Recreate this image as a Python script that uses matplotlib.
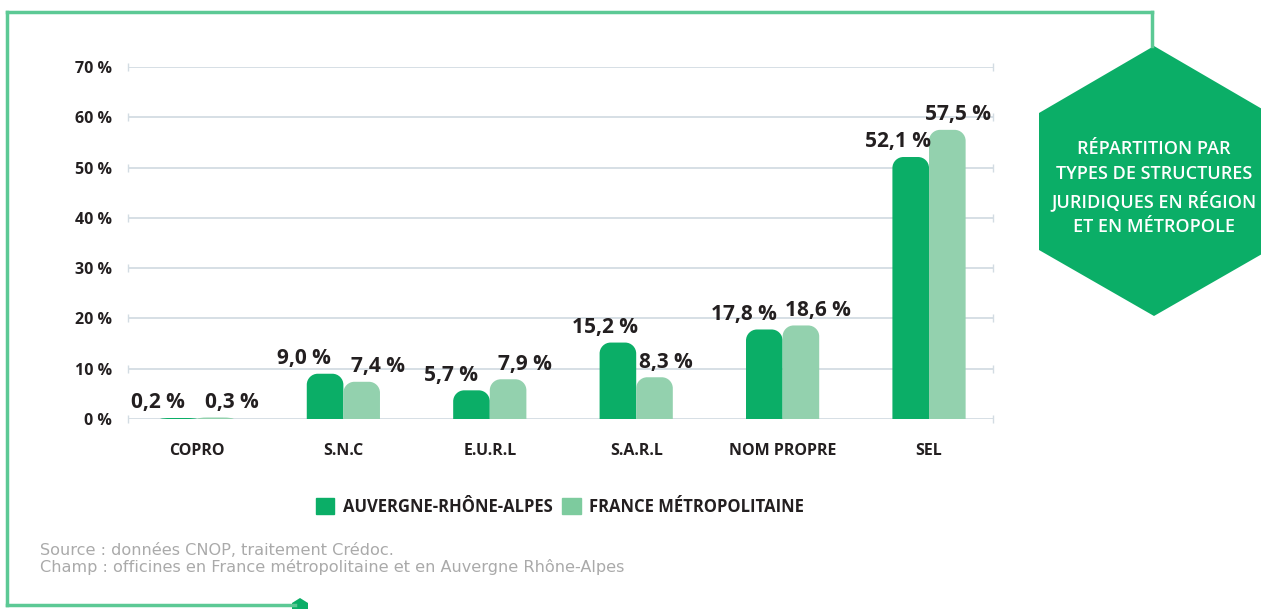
import matplotlib
matplotlib.use("Agg")
import matplotlib.pyplot as plt
import numpy as np
from matplotlib.path import Path
from matplotlib.patches import PathPatch, Polygon
from matplotlib.lines import Line2D

categories = ["COPRO", "S.N.C", "E.U.R.L", "S.A.R.L", "NOM PROPRE", "SEL"]
region_values = [0.2, 9.0, 5.7, 15.2, 17.8, 52.1]
france_values = [0.3, 7.4, 7.9, 8.3, 18.6, 57.5]
series_names = ["AUVERGNE-RHÔNE-ALPES", "FRANCE MÉTROPOLITAINE"]
y_ticks = [0, 10, 20, 30, 40, 50, 60, 70]
title_text = "RÉPARTITION PAR\nTYPES DE STRUCTURES\nJURIDIQUES EN RÉGION\nET EN MÉTROPOLE"
note_text = "Source : données CNOP, traitement Crédoc.\nChamp : officines en France métropolitaine et en Auvergne Rhône-Alpes"

DARK = "#0BAE67"
LIGHT = "#93D1AE"
LIGHT_LEG = "#7DCB9E"
TEXT = "#231F20"
GRID = "#D3DCE3"
BORDER = "#5CC995"

plt.rcParams['font.family'] = ['Open Sans', 'DejaVu Sans']

W, H = 1261, 609
fig = plt.figure(figsize=(W / 100, H / 100), dpi=100)

def fx(px):
    return px / W

def fy(py):
    return 1 - py / H

ax = fig.add_axes([fx(128), fy(419), fx(993) - fx(128), fy(67) - fy(419)])
x = np.arange(len(categories))
bw = 0.25
ax.set_xlim(-0.471, 5.437)
ax.set_ylim(0, 70)
for s in ax.spines.values():
    s.set_visible(False)
ax.set_yticks(y_ticks)
ax.set_yticklabels([f"{v} %" for v in y_ticks], fontsize=11.5, fontweight='bold', color=TEXT)
ax.set_xticks(x)
ax.set_xticklabels(categories, fontsize=11.5, fontweight='bold', color=TEXT)
ax.tick_params(axis='both', length=0)
ax.tick_params(axis='y', pad=11.5)
ax.tick_params(axis='x', pad=17)

for v in y_ticks:
    ax.axhline(v, color=GRID, lw=1.3, zorder=0)
    ax.plot([-0.471, 5.437], [v, v], ls='none', marker='|', ms=6, mew=1.0,
            color=GRID, clip_on=False, zorder=0)

bars1 = ax.bar(x - bw / 2, region_values, bw, color=DARK)
bars2 = ax.bar(x + bw / 2, france_values, bw, color=LIGHT)

px_per_x = (993 - 128) / (5.437 + 0.471)
px_per_y = (419 - 67) / 70.0
rad_px = 11

def rounded(rect, color):
    x0, y0 = rect.get_x(), rect.get_y()
    w, h = rect.get_width(), rect.get_height()
    rx = min(rad_px / px_per_x, w / 2)
    ry = min(rad_px / px_per_y, h)
    k = 0.5523
    verts = [(x0, y0), (x0, y0 + h - ry),
             (x0, y0 + h - ry + k * ry), (x0 + rx - k * rx, y0 + h), (x0 + rx, y0 + h),
             (x0 + w - rx, y0 + h),
             (x0 + w - rx + k * rx, y0 + h), (x0 + w, y0 + h - ry + k * ry), (x0 + w, y0 + h - ry),
             (x0 + w, y0), (x0, y0)]
    codes = [Path.MOVETO, Path.LINETO,
             Path.CURVE4, Path.CURVE4, Path.CURVE4,
             Path.LINETO,
             Path.CURVE4, Path.CURVE4, Path.CURVE4,
             Path.LINETO, Path.CLOSEPOLY]
    rect.set_visible(False)
    ax.add_patch(PathPatch(Path(verts, codes), facecolor=color, edgecolor='none', zorder=2))

for r in bars1:
    rounded(r, DARK)
for r in bars2:
    rounded(r, LIGHT)

def fmt(v):
    return f"{v:.1f}".replace(".", ",") + " %"

lab_kw = dict(textcoords='offset points', ha='center', va='baseline',
              fontsize=15, fontweight='bold', color=TEXT, annotation_clip=False)
for r1, r2, v1, v2 in zip(bars1, bars2, region_values, france_values):
    close = abs(v1 - v2) < 4
    d1 = -15 if close else -9
    d2 = 12 if close else 8
    ax.annotate(fmt(v1), (r1.get_x() + r1.get_width() / 2, v1), xytext=(d1, 7), **lab_kw)
    ax.annotate(fmt(v2), (r2.get_x() + r2.get_width() / 2, v2), xytext=(d2, 7), **lab_kw)

handles = [plt.Rectangle((0, 0), 1, 1, color=DARK), plt.Rectangle((0, 0), 1, 1, color=LIGHT_LEG)]
leg = fig.legend(handles, series_names, loc='center', bbox_to_anchor=(fx(560), fy(507)),
                 ncol=2, frameon=False, handlelength=1.1, handleheight=1.1,
                 handletextpad=0.5, columnspacing=0.6,
                 prop={'weight': 'bold', 'size': 12})
for t in leg.get_texts():
    t.set_color(TEXT)

fig.text(fx(40), fy(559), note_text, ha='left', va='center', fontsize=11.6,
         color="#AAAAAA", linespacing=1.1, family=['DejaVu Sans'])

bl = dict(color=BORDER, lw=2.5, transform=fig.transFigure, clip_on=False)
fig.add_artist(Line2D([fx(7), fx(1152)], [fy(12), fy(12)], **bl))
fig.add_artist(Line2D([fx(1152), fx(1152)], [fy(12), fy(46)], **bl))
fig.add_artist(Line2D([fx(7), fx(7)], [fy(12), fy(605)], **bl))
fig.add_artist(Line2D([fx(7), fx(295)], [fy(605), fy(605)], **bl))

cx = 1154
hex_pts = [(cx, 46), (1039, 113), (1039, 250), (cx, 316), (1269, 250), (1269, 113)]
fig.add_artist(Polygon([(fx(a), fy(b)) for a, b in hex_pts], closed=True,
                       facecolor=DARK, edgecolor='none', transform=fig.transFigure))
fig.text(fx(cx), fy(188), title_text, ha='center', va='center', color='white',
         fontsize=13, fontweight='semibold', linespacing=1.47)

sh = [(300, 598), (292, 603), (292, 612), (300, 617), (308, 612), (308, 603)]
fig.add_artist(Polygon([(fx(a), fy(b)) for a, b in sh], closed=True,
                       facecolor=DARK, edgecolor='none', transform=fig.transFigure))

fig.savefig("out.png", dpi=100)
